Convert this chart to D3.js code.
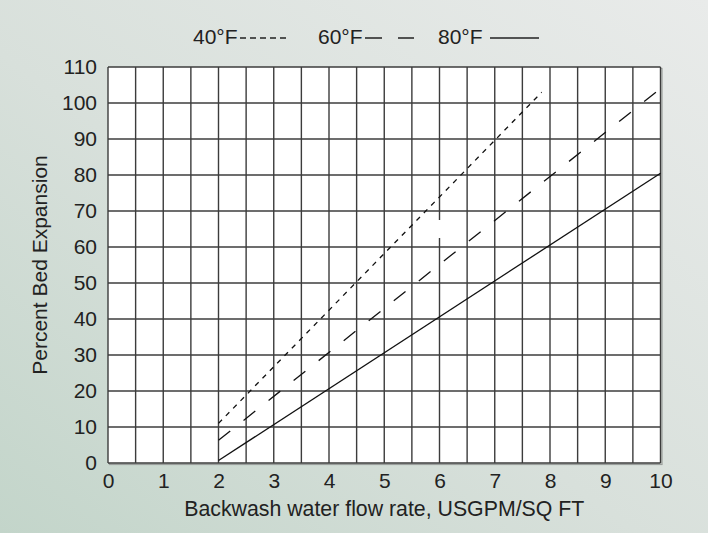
<!DOCTYPE html>
<html>
<head>
<meta charset="utf-8">
<script src="https://cdn.jsdelivr.net/npm/d3@7/dist/d3.min.js"></script>
<style>
html,body{margin:0;padding:0;}
svg{display:block;font-family:"Liberation Sans",Arial,sans-serif;}
</style>
</head>
<body>
<svg id="chart" width="708" height="533"></svg>
<script>
// ---- data ----
const xTicks = [0,1,2,3,4,5,6,7,8,9,10];
const yTicks = [0,10,20,30,40,50,60,70,80,90,100,110];
const seriesNames = ["40°F","60°F","80°F"];
const flow40 = [2, 7.85];
const exp40  = [11, 103];
const flow60 = [2, 10];
const exp60  = [6.3, 104];
const flow80 = [2, 10];
const exp80  = [0.7, 80.5];
const xTitle = "Backwash water flow rate, USGPM/SQ FT";
const yTitle = "Percent Bed Expansion";

const W = 708, H = 533;
const m = {left:108, right:W-660.5, top:67, bottom:H-463};
const svg = d3.select("#chart");

// background gradient
const defs = svg.append("defs");
const g = defs.append("linearGradient").attr("id","bg")
  .attr("x1","100%").attr("y1","0%").attr("x2","0%").attr("y2","100%");
g.append("stop").attr("offset","0%").attr("stop-color","#e9ebea");
g.append("stop").attr("offset","55%").attr("stop-color","#d8e0db");
g.append("stop").attr("offset","100%").attr("stop-color","#c3d5ca");
svg.append("rect").attr("width",W).attr("height",H).attr("fill","url(#bg)");

const x = d3.scaleLinear().domain([0,10]).range([m.left, W-m.right]);
const y = d3.scaleLinear().domain([0,110]).range([H-m.bottom, m.top]);

// plot area
svg.append("rect").attr("x",x(0)+1.5).attr("y",y(110)+1.5)
  .attr("width",x(10)-x(0)).attr("height",y(0)-y(110))
  .attr("fill","none").attr("stroke","#9a9e9c").attr("stroke-width",1.2);
svg.append("rect").attr("x",x(0)).attr("y",y(110))
  .attr("width",x(10)-x(0)).attr("height",y(0)-y(110))
  .attr("fill","#ffffff");

// grid
const grid = svg.append("g").attr("stroke","#3c3c3c").attr("stroke-width",1.4);
d3.range(0,10.01,0.5).forEach(v=>{
  grid.append("line").attr("x1",x(v)).attr("x2",x(v)).attr("y1",y(0)).attr("y2",y(110));
});
yTicks.forEach(v=>{
  grid.append("line").attr("x1",x(0)).attr("x2",x(10)).attr("y1",y(v)).attr("y2",y(v));
});
// small blank patch on the x=6 grid line
svg.append("rect").attr("x",x(6)-2).attr("y",y(67.5)).attr("width",4)
  .attr("height",y(62.5)-y(67.5)).attr("fill","#ffffff");

const FONT = "Liberation Sans, Arial, sans-serif";
// axes (labels only)
const xAxis = d3.axisBottom(x).tickValues(xTicks).tickSize(0).tickPadding(10).tickFormat(d3.format("d"));
const xa = svg.append("g").attr("transform",`translate(0,${y(0)})`).call(xAxis);
xa.select(".domain").remove();
xa.selectAll("text").attr("font-size",21).attr("fill","#222").attr("font-family",FONT);

const yAxis = d3.axisLeft(y).tickValues(yTicks).tickSize(0).tickPadding(11).tickFormat(d3.format("d"));
const ya = svg.append("g").attr("transform",`translate(${x(0)},0)`).call(yAxis);
ya.select(".domain").remove();
ya.selectAll("text").attr("font-size",21).attr("fill","#222").attr("font-family",FONT);

// lines
const line = d3.line().x(d=>x(d[0])).y(d=>y(d[1]));
const series = [
  {pts: d3.zip(flow40,exp40), dash:"5,5.5"},
  {pts: d3.zip(flow60,exp60), dash:"15,17"},
  {pts: d3.zip(flow80,exp80), dash:null}
];
series.forEach(s=>{
  svg.append("path").attr("d",line(s.pts)).attr("fill","none")
    .attr("stroke","#111").attr("stroke-width",1.3)
    .attr("stroke-dasharray",s.dash);
});

// titles
svg.append("text").attr("x",(x(0)+x(10))/2).attr("y",516).attr("text-anchor","middle")
  .attr("font-size",21.3).attr("fill","#222").text(xTitle);
svg.append("text").attr("transform",`translate(46.5,265) rotate(-90)`).attr("text-anchor","middle")
  .attr("font-size",21).attr("fill","#222").text(yTitle);

// legend
const lg = svg.append("g").attr("font-size",21).attr("fill","#222");
const legendItems = [
  {tx:193, lx1:240, lx2:288, dash:"6,4"},
  {tx:318, lx1:365, lx2:414, dash:"17,16"},
  {tx:438, lx1:490, lx2:539, dash:null}
];
legendItems.forEach((it,i)=>{
  lg.append("text").attr("x",it.tx).attr("y",44).text(seriesNames[i]);
  lg.append("line").attr("x1",it.lx1).attr("x2",it.lx2).attr("y1",38).attr("y2",38)
    .attr("stroke","#222").attr("stroke-width",1.3).attr("stroke-dasharray",it.dash);
});
</script>
</body>
</html>
